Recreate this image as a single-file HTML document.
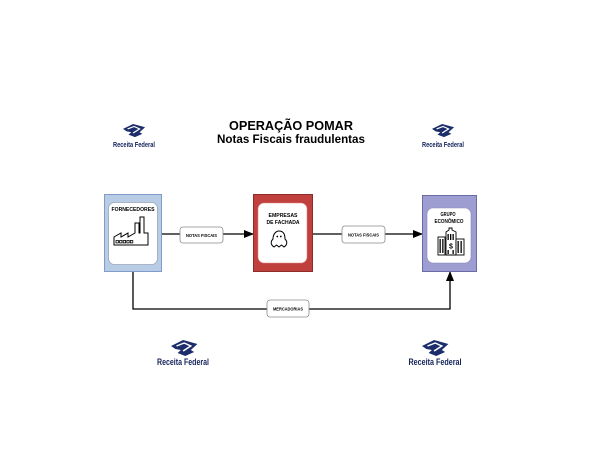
<!DOCTYPE html>
<html>
<head>
<meta charset="utf-8">
<style>
  html,body{margin:0;padding:0;background:#fff;}
  svg{display:block;}
  text{font-family:"Liberation Sans",Arial,sans-serif;}
</style>
</head>
<body>
<svg width="600" height="450" viewBox="0 0 600 450" xmlns="http://www.w3.org/2000/svg">
  <defs>
    <marker id="ah" markerWidth="10" markerHeight="8" refX="9" refY="4" orient="auto" markerUnits="userSpaceOnUse">
      <path d="M0,0 L10,4 L0,8 Z" fill="#000"/>
    </marker>
    <g id="emb">
      <polygon points="0,6 11,0 24,4 18,10 21,12 13,16 6,13 9,10 4,9" fill="#1b2d6b"/>
      <polyline points="5,6 12,3 18,6 11,11" fill="none" stroke="#fff" stroke-width="1.4"/>
    </g>
  </defs>

  <!-- Title -->
  <text x="291" y="130" text-anchor="middle" font-size="12.5" font-weight="bold" fill="#000" textLength="124" lengthAdjust="spacingAndGlyphs">OPERAÇÃO POMAR</text>
  <text x="291" y="143" text-anchor="middle" font-size="11.8" font-weight="bold" fill="#000" textLength="148" lengthAdjust="spacingAndGlyphs">Notas Fiscais fraudulentas</text>

  <!-- Top logos -->
  <use href="#emb" transform="translate(123,124) scale(0.92,0.82)"/>
  <text x="134" y="147" text-anchor="middle" font-size="7" font-weight="bold" fill="#14235a" textLength="42" lengthAdjust="spacingAndGlyphs">Receita Federal</text>
  <use href="#emb" transform="translate(432,124) scale(0.92,0.82)"/>
  <text x="443" y="147" text-anchor="middle" font-size="7" font-weight="bold" fill="#14235a" textLength="42" lengthAdjust="spacingAndGlyphs">Receita Federal</text>

  <!-- Bottom logos -->
  <use href="#emb" transform="translate(171,340) scale(1.1,1.0)"/>
  <text x="183" y="365" text-anchor="middle" font-size="9" font-weight="bold" fill="#14235a" textLength="52" lengthAdjust="spacingAndGlyphs">Receita Federal</text>
  <use href="#emb" transform="translate(422,340) scale(1.1,1.0)"/>
  <text x="435" y="365" text-anchor="middle" font-size="9" font-weight="bold" fill="#14235a" textLength="53" lengthAdjust="spacingAndGlyphs">Receita Federal</text>

  <!-- Connectors -->
  <line x1="162" y1="234" x2="253" y2="234" stroke="#000" stroke-width="1.3" marker-end="url(#ah)"/>
  <line x1="313" y1="234" x2="422" y2="234" stroke="#000" stroke-width="1.3" marker-end="url(#ah)"/>
  <polyline points="133,272 133,309 450,309 450,272" fill="none" stroke="#000" stroke-width="1.3" marker-end="url(#ah)"/>

  <!-- Label boxes -->
  <rect x="180" y="227" width="43" height="16" rx="3" fill="#fff" stroke="#8a8a8a" stroke-width="0.8"/>
  <text x="201.5" y="236.8" text-anchor="middle" font-size="4.6" font-weight="bold" fill="#000" textLength="31" lengthAdjust="spacingAndGlyphs">NOTAS FISCAIS</text>
  <rect x="342" y="226" width="43" height="17" rx="3" fill="#fff" stroke="#8a8a8a" stroke-width="0.8"/>
  <text x="363.5" y="236.3" text-anchor="middle" font-size="4.6" font-weight="bold" fill="#000" textLength="31" lengthAdjust="spacingAndGlyphs">NOTAS FISCAIS</text>
  <rect x="267" y="300" width="42" height="17" rx="3" fill="#fff" stroke="#8a8a8a" stroke-width="0.8"/>
  <text x="288" y="310.5" text-anchor="middle" font-size="4.6" font-weight="bold" fill="#000" textLength="30" lengthAdjust="spacingAndGlyphs">MERCADORIAS</text>

  <!-- Left box -->
  <rect x="104.5" y="194.5" width="57" height="77" fill="#b9cce6" stroke="#7f9ccb" stroke-width="1"/>
  <rect x="108.5" y="202.5" width="49" height="62" rx="6" fill="#fff" stroke="#9aa6b8" stroke-width="0.8"/>
  <text x="133" y="211" text-anchor="middle" font-size="5.6" font-weight="bold" fill="#000" textLength="43" lengthAdjust="spacingAndGlyphs">FORNECEDORES</text>
  <path d="M114,245 V237 L121,233 V237 L128,233 V237 L135,233 V223 H139 V233 H140 V217 H144 V233 H148 V245 Z" fill="#fff" stroke="#000" stroke-width="1"/>
  <g fill="none" stroke="#000" stroke-width="0.8">
    <rect x="116" y="240.5" width="2.4" height="2.4"/>
    <rect x="119.6" y="240.5" width="2.4" height="2.4"/>
    <rect x="123.2" y="240.5" width="2.4" height="2.4"/>
    <rect x="126.8" y="240.5" width="2.4" height="2.4"/>
    <rect x="130.4" y="240.5" width="2.4" height="2.4"/>
  </g>

  <!-- Middle box -->
  <rect x="253.5" y="194.5" width="59" height="77" fill="#c0403e" stroke="#8e2c2a" stroke-width="1"/>
  <rect x="258" y="203" width="49" height="60" rx="6" fill="#fff" stroke="#d88" stroke-width="0.6"/>
  <text x="283" y="217" text-anchor="middle" font-size="5.6" font-weight="bold" fill="#000" textLength="29" lengthAdjust="spacingAndGlyphs">EMPRESAS</text>
  <text x="283" y="224" text-anchor="middle" font-size="5.6" font-weight="bold" fill="#000" textLength="33" lengthAdjust="spacingAndGlyphs">DE FACHADA</text>
  <path d="M274,247 C271,245 270,242 273,239 C273,234 276,231 279,231 C283,231 285,234 285,239 C288,242 287,245 284,247 L281.5,245 L279,247 L276.5,245 Z" fill="#fff" stroke="#000" stroke-width="1"/>
  <circle cx="277.3" cy="236.5" r="0.9" fill="#000"/>
  <circle cx="280.8" cy="236.5" r="0.9" fill="#000"/>

  <!-- Right box -->
  <rect x="422.5" y="195.5" width="54" height="76" fill="#9d9dd1" stroke="#6b6ba8" stroke-width="1"/>
  <rect x="427" y="208" width="44" height="55" rx="6" fill="#fff" stroke="#8888b8" stroke-width="0.6"/>
  <text x="448" y="216" text-anchor="middle" font-size="5.6" font-weight="bold" fill="#000" textLength="15" lengthAdjust="spacingAndGlyphs">GRUPO</text>
  <text x="449" y="223" text-anchor="middle" font-size="5.6" font-weight="bold" fill="#000" textLength="29" lengthAdjust="spacingAndGlyphs">ECONÔMICO</text>
  <g fill="#fff" stroke="#000" stroke-width="0.9">
    <rect x="438" y="237" width="7" height="18"/>
    <path d="M446,255 V232 L449,230 V228 H452 V230 L456,232 V255 Z"/>
    <rect x="456" y="239" width="8" height="16"/>
  </g>
  <g fill="#000">
    <rect x="439.5" y="239" width="1.3" height="14"/>
    <rect x="442.2" y="239" width="1.3" height="14"/>
    <rect x="447.5" y="234" width="1.3" height="6"/>
    <rect x="450" y="234" width="1.3" height="6"/>
    <rect x="452.5" y="234" width="1.3" height="6"/>
    <rect x="457.5" y="241" width="1.3" height="12"/>
    <rect x="460.5" y="241" width="1.3" height="12"/>
    <rect x="447.5" y="250" width="1.3" height="4"/>
    <rect x="452.5" y="250" width="1.3" height="4"/>
  </g>
  <text x="451" y="248.5" text-anchor="middle" font-size="7" font-weight="bold" fill="#000">$</text>
</svg>
</body>
</html>
